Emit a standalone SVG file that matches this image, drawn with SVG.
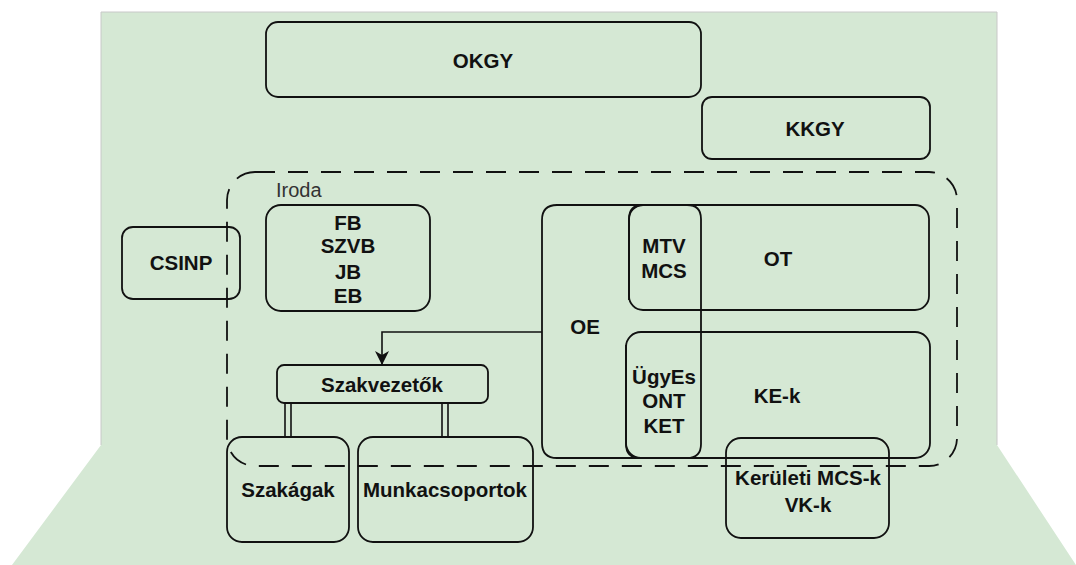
<svg xmlns="http://www.w3.org/2000/svg" width="1076" height="565" viewBox="0 0 1076 565">
<style>
.box{fill:none;stroke:#111;stroke-width:1.8}
.t{font-family:"Liberation Sans",Arial,sans-serif;font-weight:bold;font-size:20.5px;fill:#111;text-anchor:middle;dominant-baseline:central}
.lbl{font-family:"Liberation Sans",Arial,sans-serif;font-size:20px;fill:#333}
.dash{fill:none;stroke:#111;stroke-width:1.8;stroke-dasharray:20 13}
.edge{fill:none;stroke:#111;stroke-width:1.6}
</style>
<defs>
<marker id="arr" viewBox="0 0 14 14" refX="13" refY="7" markerWidth="14" markerHeight="14" markerUnits="userSpaceOnUse" orient="auto">
<path d="M0,0 L14,7 L0,14 L4,7 Z" fill="#111"/>
</marker>
</defs>
<g id="background">
<polygon points="101,12 997,12 997,445 1076,565 12,565 101,445" fill="#d5e8d4"/>
<polyline points="101,445 101,12 997,12 997,445" fill="none" stroke="#c8c8c8" stroke-width="1"/>
</g>
<g id="okgy"><rect class="box" x="266" y="22" width="435" height="75" rx="12"/><text class="t" x="483" y="60">OKGY</text></g>
<g id="kkgy"><rect class="box" x="702" y="97" width="228" height="62" rx="10"/><text class="t" x="815" y="128">KKGY</text></g>
<g id="csinp"><rect class="box" x="122" y="227" width="118" height="72" rx="11"/><text class="t" x="181" y="262">CSINP</text></g>
<g id="bizottsagok"><rect class="box" x="266" y="205" width="164" height="106" rx="15"/>
<text class="t" x="348" y="222">FB</text><text class="t" x="348" y="245">SZVB</text><text class="t" x="348" y="271">JB</text><text class="t" x="348" y="295">EB</text></g>
<g id="oe"><path class="box" d="M701,205 H557 Q542,205 542,220 V443 Q542,458 557,458 H701"/><text class="t" x="585" y="326">OE</text></g>
<g id="ot"><rect class="box" x="629" y="205" width="300" height="105" rx="14"/><text class="t" x="778" y="258">OT</text></g>
<g id="ke"><rect class="box" x="626" y="332" width="304" height="126" rx="15"/><text class="t" x="777" y="395">KE-k</text></g>
<g id="mtv-ugyes"><path class="box" d="M629,300 V219 Q629,205 643,205 H687 Q701,205 701,219 V444 Q701,458 687,458 H640 Q626,458 626,444 V345"/>
<text class="t" x="664" y="245">MTV</text><text class="t" x="664" y="270">MCS</text>
<text class="t" x="664" y="376">ÜgyEs</text><text class="t" x="664" y="400">ONT</text><text class="t" x="664" y="425">KET</text></g>
<g id="szakvezetok"><rect class="box" x="277" y="365" width="211" height="38" rx="7"/><text class="t" x="382" y="384">Szakvezetők</text></g>
<g id="szakagak"><rect class="box" x="227" y="437" width="122" height="105" rx="15"/><text class="t" x="288" y="489">Szakágak</text></g>
<g id="munkacsoportok"><rect class="box" x="358" y="437" width="175" height="105" rx="15"/><text class="t" x="445" y="489">Munkacsoportok</text></g>
<g id="keruleti"><rect class="box" x="726" y="438" width="163" height="100" rx="15"/><text class="t" x="808" y="477">Kerületi MCS-k</text><text class="t" x="808" y="504">VK-k</text></g>
<g id="iroda"><rect class="dash" x="227" y="172" width="730" height="294" rx="28"/><text class="lbl" x="276" y="197">Iroda</text></g>
<g id="connectors">
<path class="edge" d="M542,332 H382 V364" marker-end="url(#arr)"/>
<path class="edge" d="M285,403 V437 M291,403 V437"/>
<path class="edge" d="M442,403 V437 M448,403 V437"/>
</g>
</svg>
